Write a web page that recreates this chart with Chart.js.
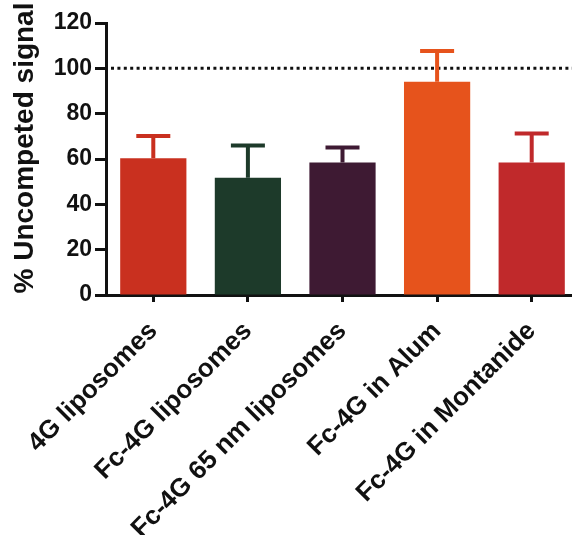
<!DOCTYPE html>
<html>
<head>
<meta charset="utf-8">
<script src="https://cdn.jsdelivr.net/npm/chart.js@4"></script>
<style>
  html, body { margin: 0; padding: 0; background: #fff; overflow: hidden; }
  canvas { display: block; }
</style>
</head>
<body>
<canvas id="myChart" width="579" height="535"></canvas>
<script>
const labels = [
  "4G liposomes",
  "Fc-4G liposomes",
  "Fc-4G 65 nm liposomes",
  "Fc-4G in Alum",
  "Fc-4G in Montanide",
];
const means = [60.3, 51.7, 58.5, 94.1, 58.5];
const errors = [9.8, 14.3, 6.6, 13.5, 12.8];
const referenceLevel = 100;
const yTicks = [0, 20, 40, 60, 80, 100, 120];
const yTitle = "% Uncompeted signal";
const colors = ["#c9301f", "#1d3a2a", "#3e1a33", "#e6531c", "#c0292b"];

const fontFamily = "Arial, 'Liberation Sans', Helvetica, sans-serif";

// dotted line at 100 %, drawn behind the bars
const refLine = {
  id: "refLine",
  beforeDatasetsDraw(chart) {
    const { ctx, chartArea, scales } = chart;
    const y = scales.y.getPixelForValue(referenceLevel);
    ctx.save();
    ctx.strokeStyle = "#111";
    ctx.lineWidth = 3;
    ctx.setLineDash([3, 3.4]);
    ctx.beginPath();
    ctx.moveTo(chartArea.left + 5, y);
    ctx.lineTo(chartArea.right, y);
    ctx.stroke();
    ctx.restore();
  },
};

// upper error bars (mean + SD)
const errorBars = {
  id: "errorBars",
  afterDatasetsDraw(chart) {
    const { ctx, scales } = chart;
    const meta = chart.getDatasetMeta(0);
    ctx.save();
    meta.data.forEach((bar, i) => {
      const top = scales.y.getPixelForValue(means[i] + errors[i]);
      const base = scales.y.getPixelForValue(means[i]);
      ctx.strokeStyle = colors[i];
      ctx.lineWidth = 4;
      ctx.beginPath();
      ctx.moveTo(bar.x, base);
      ctx.lineTo(bar.x, top);
      ctx.moveTo(bar.x - 17, top);
      ctx.lineTo(bar.x + 17, top);
      ctx.stroke();
    });
    ctx.restore();
  },
};

// y axis title, a bit higher than the scale centre like the original
const yTitlePlugin = {
  id: "yTitle",
  afterDraw(chart) {
    const { ctx } = chart;
    ctx.save();
    ctx.translate(33, 148);
    ctx.rotate(-Math.PI / 2);
    ctx.font = "bold 28px " + fontFamily;
    ctx.fillStyle = "#111";
    ctx.textAlign = "center";
    ctx.textBaseline = "alphabetic";
    ctx.fillText(yTitle, 0, 0);
    ctx.restore();
  },
};

const ctx = document.getElementById("myChart");
new Chart(ctx, {
  type: "bar",
  data: {
    labels: labels,
    datasets: [
      {
        data: means,
        backgroundColor: colors,
        barPercentage: 0.7,
        categoryPercentage: 1,
      },
    ],
  },
  options: {
    responsive: false,
    animation: false,
    layout: { padding: { top: 23, left: 0, right: 0, bottom: 0 } },
    plugins: {
      legend: { display: false },
      tooltip: { enabled: false },
    },
    scales: {
      y: {
        min: 0,
        max: 120,
        afterFit: (scale) => { scale.width = 106; },
        afterBuildTicks: (scale) => {
          scale.ticks = yTicks.map((v) => ({ value: v }));
        },
        border: { color: "#111", width: 3 },
        grid: {
          drawOnChartArea: false,
          drawTicks: true,
          tickLength: 11,
          tickWidth: 3,
          tickColor: "#111",
        },
        ticks: {
          color: "#111",
          padding: 3,
          font: { family: fontFamily, size: 23, weight: "bold" },
        },
      },
      x: {
        afterFit: (scale) => { scale.height = 240; },
        border: { color: "#111", width: 3 },
        grid: {
          offset: false,
          drawOnChartArea: false,
          drawTicks: true,
          tickLength: 7,
          tickWidth: 3,
          tickColor: "#111",
        },
        ticks: {
          color: "#111",
          autoSkip: false,
          maxRotation: 45,
          minRotation: 45,
          padding: 14,
          font: { family: fontFamily, size: 26, weight: "bold" },
        },
      },
    },
  },
  plugins: [refLine, errorBars, yTitlePlugin],
});
</script>
</body>
</html>
